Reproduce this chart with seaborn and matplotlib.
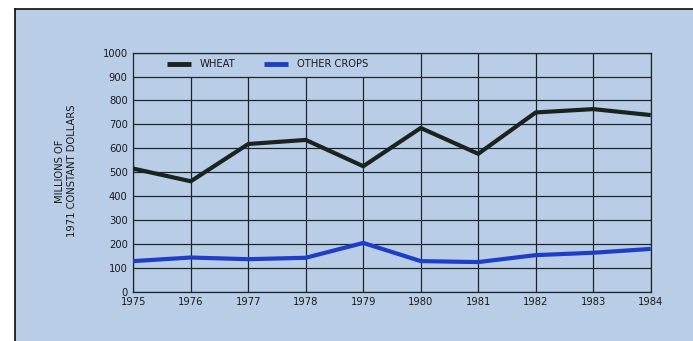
import matplotlib
matplotlib.use("Agg")
import matplotlib.pyplot as plt
import seaborn as sns
import pandas as pd

years = [1975, 1976, 1977, 1978, 1979, 1980, 1981, 1982, 1983, 1984]
wheat = [515, 462, 618, 635, 525, 685, 577, 750, 764, 739]
other_crops = [128, 143, 136, 142, 204, 128, 124, 153, 163, 179]
series_names = ["WHEAT", "OTHER CROPS"]
y_ticks = [0, 100, 200, 300, 400, 500, 600, 700, 800, 900, 1000]

bg = "#b9cde6"
grid_col = "#1a262c"
fs = 7.2

df = pd.DataFrame({
    "year": years * 2,
    "value": wheat + other_crops,
    "series": [series_names[0]] * len(years) + [series_names[1]] * len(years),
})

sns.set_theme(style="white")
plt.rcParams["font.family"] = ["DejaVu Sans"]

fig = plt.figure(figsize=(6.93, 3.41), dpi=100)
fig.patch.set_facecolor("white")

# page panel with a dark edge on the top and left
panel = fig.add_axes([15 / 693, 0, 1 - 15 / 693, 1 - 9 / 341])
panel.set_facecolor(bg)
panel.set_xticks([])
panel.set_yticks([])
for s in ["right", "bottom"]:
    panel.spines[s].set_visible(False)
for s in ["top", "left"]:
    panel.spines[s].set_color("#1a1a1a")
    panel.spines[s].set_linewidth(1.3)

ax = fig.add_axes([133.3 / 693, 1 - 291.7 / 341, (650.7 - 133.3) / 693, (291.7 - 52.7) / 341])
ax.set_facecolor("none")

# horizontal grid lines across the full width
ax.hlines(y_ticks, years[0], years[-1], color=grid_col, lw=0.9, zorder=1)
# vertical grid lines; the legend band covers 1975-1979 above 900
for yr in years:
    top = 900 if yr <= 1979 else 1000
    ax.vlines(yr, 0, top, color=grid_col, lw=0.9, zorder=1)

sns.lineplot(data=df, x="year", y="value", hue="series",
             palette={"WHEAT": "#1b2320", "OTHER CROPS": "#1f3ec8"},
             linewidth=3.0, ax=ax, zorder=3, legend=True)
for ln in ax.get_lines():
    ln.set_solid_joinstyle("round")
    ln.set_solid_capstyle("butt")

ax.set_xlim(years[0], years[-1])
ax.set_ylim(0, 1000)
ax.set_xticks(years)
ax.set_xticklabels([str(y) for y in years], fontsize=fs, color="#1a1a1a")
ax.set_yticks(y_ticks)
ax.set_yticklabels([str(v) for v in y_ticks], fontsize=fs, color="#1a1a1a")
ax.tick_params(length=0, pad=4)
ax.set_xlabel("")
ax.set_ylabel("")
for s in ax.spines.values():
    s.set_visible(True)
    s.set_color(grid_col)
    s.set_linewidth(0.9)

handles, labels = ax.get_legend_handles_labels()
leg = ax.legend(handles, labels, ncol=2, loc="upper left",
                bbox_to_anchor=(0.048, 1.01), frameon=False,
                fontsize=fs, handlelength=2.4, handletextpad=0.9,
                columnspacing=2.8)
for t in leg.get_texts():
    t.set_color("#1a1a1a")
for h in leg.legend_handles:
    h.set_linewidth(3.5)

fig.text(66 / 693, 1 - 171 / 341, "MILLIONS OF\n1971 CONSTANT DOLLARS",
         rotation=90, ha="center", va="center", fontsize=fs,
         color="#1a1a1a", linespacing=1.25)

fig.savefig("out.png", dpi=100, facecolor=fig.get_facecolor())
